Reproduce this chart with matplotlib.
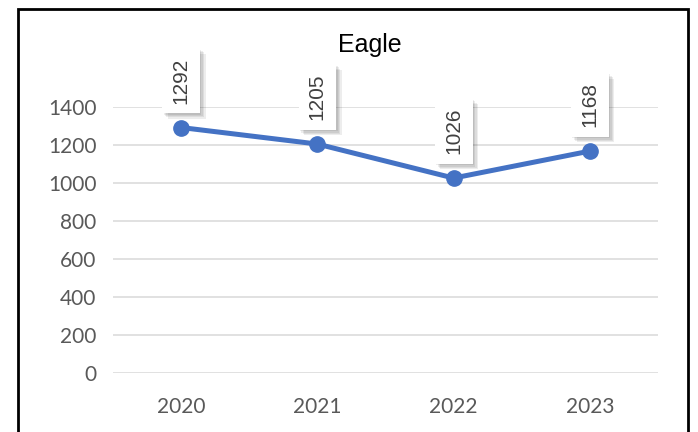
import matplotlib.pyplot as plt
from matplotlib.patches import Rectangle
import matplotlib.patheffects as pe

# Datos
years = ["2020", "2021", "2022", "2023"]
values = [1292, 1205, 1026, 1168]
y_ticks = [0, 200, 400, 600, 800, 1000, 1200, 1400]

fig = plt.figure(figsize=(6.98, 4.32), dpi=100)
fig.patch.set_facecolor("white")

# Marco del gráfico
fig.patches.append(Rectangle((18 / 698, -0.2), 670 / 698, 1.2 - 9 / 432,
                             transform=fig.transFigure, fill=False,
                             edgecolor="black", linewidth=2, clip_on=False))

ax = fig.add_axes([113 / 698, 1 - 373 / 432, 545 / 698, 266 / 432])
x = list(range(len(years)))
ax.plot(x, values, color="#4472C4", linewidth=3.6, marker="o",
        markersize=11, solid_capstyle="round", zorder=3, clip_on=False)

ax.set_xlim(-0.5, len(years) - 0.5)
ax.set_ylim(0, 1400)
ax.set_yticks(y_ticks)
ax.set_xticks(x)
ax.set_xticklabels(years)
ax.grid(axis="y", color="#D9D9D9", linewidth=1.1)
ax.set_axisbelow(True)
for s in ax.spines.values():
    s.set_visible(False)
ax.tick_params(axis="both", length=0, labelsize=15, colors="#595959")
ax.tick_params(axis="y", pad=12)
ax.tick_params(axis="x", pad=17)
for lbl in ax.get_xticklabels() + ax.get_yticklabels():
    lbl.set_fontfamily("Lato")

# sombra suave (varias capas)
shadow = [pe.SimplePatchShadow(offset=(d, -d), shadow_rgbFace="#000000", alpha=0.07)
          for d in (1, 2, 3, 4)] + [pe.Normal()]

# Etiquetas de datos
for xi, v in zip(x, values):
    t = ax.annotate(str(v), (xi, v), xytext=(0, 17), textcoords="offset points",
                    rotation=90, ha="center", va="bottom", fontsize=15,
                    color="#404040", family="Liberation Sans", zorder=5,
                    annotation_clip=False,
                    bbox=dict(boxstyle="square,pad=0.45", facecolor="white",
                              edgecolor="none"))
    t.get_bbox_patch().set_path_effects(shadow)

fig.text(370 / 698, 1 - 45 / 432, "Eagle", ha="center", va="center",
         fontsize=18, family="Liberation Sans", color="black")

fig.savefig("out.png", dpi=100)
